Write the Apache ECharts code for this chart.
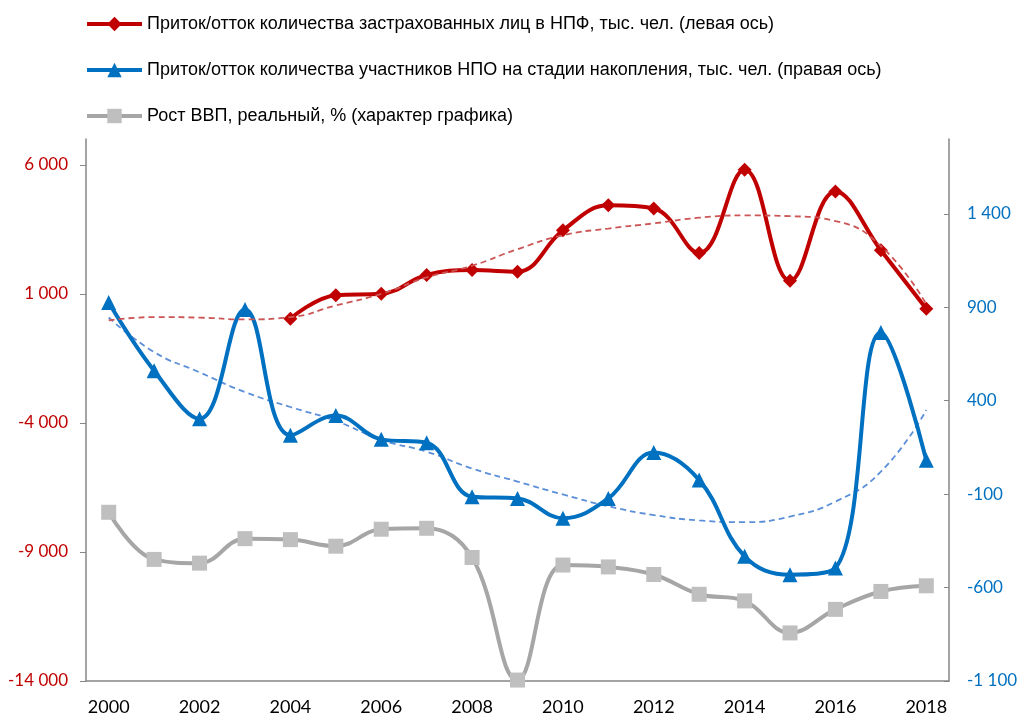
<!DOCTYPE html>
<html>
<head>
<meta charset="utf-8">
<script src="https://cdn.jsdelivr.net/npm/echarts@6/dist/echarts.min.js"></script>
<style>
  html, body { margin: 0; padding: 0; background: #fff; }
  #chart { width: 1026px; height: 716px; }
</style>
</head>
<body>
<div id="chart"></div>
<script>
// годы
var years = ['2000','2001','2002','2003','2004','2005','2006','2007','2008','2009',
             '2010','2011','2012','2013','2014','2015','2016','2017','2018'];

// НПФ, тыс. чел. (левая ось)
var npfFlow = [null, null, null, null, 40, 950, 1000, 1730, 1920, 1860,
               3460, 4430, 4310, 2580, 5810, 1510, 4970, 2690, 420];
var npfTrend = [-30, 100, 80, 10, 100, 550, 1000, 1640, 2090, 2730,
                3270, 3530, 3730, 3950, 4040, 4010, 3820, 2850, 600];

// НПО, тыс. чел. (правая ось)
var npoFlow = [925, 560, 303, 888, 215, 320, 193, 175, -114, -123,
               -229, -123, 122, -25, -433, -531, -495, 764, 81];
var npoTrend = [845, 660, 552, 446, 366, 292, 190, 127, 37, -33,
                -102, -165, -212, -241, -250, -220, -140, 20, 350];

// Рост ВВП, %
var gdp = [10.0, 5.0, 4.6, 7.2, 7.1, 6.4, 8.2, 8.3, 5.2, -7.8,
           4.4, 4.2, 3.4, 1.3, 0.6, -2.8, -0.3, 1.6, 2.2];

var legendNames = [
  'Приток/отток количества застрахованных лиц в НПФ, тыс. чел. (левая ось)',
  'Приток/отток количества участников НПО на стадии накопления, тыс. чел. (правая ось)',
  'Рост ВВП, реальный, % (характер графика)'
];

function spaced(v) {
  var s = String(Math.abs(v)).replace(/\B(?=(\d{3})+(?!\d))/g, ' ');
  return (v < 0 ? '-' : '') + s;
}

var chart = echarts.init(document.getElementById('chart'));
var option = {
  animation: false,
  backgroundColor: '#fff',
  legend: {
    orient: 'vertical',
    left: 80,
    top: 10,
    itemGap: 28,
    itemWidth: 55,
    itemHeight: 18,
    data: legendNames,
    lineStyle: { width: 4 },
    textStyle: { fontFamily: 'Liberation Sans', fontSize: 18, color: '#000' }
  },
  grid: { left: 86, right: 77, top: 139, bottom: 34 },
  xAxis: {
    type: 'category',
    data: years,
    boundaryGap: true,
    axisLine: { onZero: false, lineStyle: { color: '#868686', width: 1.5 } },
    axisTick: { alignWithLabel: true, interval: 0, length: 6, lineStyle: { color: '#868686' } },
    axisLabel: { interval: 1, color: '#000', fontFamily: 'Lato', fontSize: 18, margin: 17 }
  },
  yAxis: [
    {
      type: 'value', position: 'left',
      min: -14000, max: 7000, interval: 5000,
      splitLine: { show: false },
      axisLine: { show: true, lineStyle: { color: '#868686', width: 1.5 } },
      axisTick: { show: true, length: 6, lineStyle: { color: '#868686' } },
      axisLabel: {
        showMaxLabel: false, color: '#C00000', fontFamily: 'Lato', fontSize: 17, margin: 18,
        formatter: function (v) { return spaced(v); }
      }
    },
    {
      type: 'value', position: 'right',
      min: -1100, max: 1800, interval: 500,
      splitLine: { show: false },
      axisLine: { show: true, lineStyle: { color: '#868686', width: 1.5 } },
      axisTick: { show: true, inside: true, length: 5, lineStyle: { color: '#868686' } },
      axisLabel: {
        showMaxLabel: false, color: '#0070C0', fontFamily: 'Lato', fontSize: 17, margin: 18,
        formatter: function (v) { return spaced(v); }
      }
    },
    {
      type: 'value', show: false,
      min: -7.9, max: 49.6
    }
  ],
  series: [
    {
      name: legendNames[2], type: 'line', yAxisIndex: 2, data: gdp,
      smooth: 0.4, symbol: 'rect', symbolSize: 15,
      lineStyle: { color: '#A6A6A6', width: 4 },
      itemStyle: { color: '#BFBFBF' }, z: 2
    },
    {
      name: 'npoTrend', type: 'line', yAxisIndex: 1, data: npoTrend,
      smooth: 0.5, symbol: 'none',
      lineStyle: { color: '#5B8FD8', width: 1.8, type: [6, 4] }, z: 3
    },
    {
      name: legendNames[1], type: 'line', yAxisIndex: 1, data: npoFlow,
      smooth: 0.4, symbol: 'triangle', symbolSize: 15,
      lineStyle: { color: '#0070C0', width: 4 },
      itemStyle: { color: '#0070C0' }, z: 4
    },
    {
      name: legendNames[0], type: 'line', yAxisIndex: 0, data: npfFlow,
      smooth: 0.4, symbol: 'diamond', symbolSize: 14,
      lineStyle: { color: '#C00000', width: 4 },
      itemStyle: { color: '#C00000' }, z: 5
    },
    {
      name: 'npfTrend', type: 'line', yAxisIndex: 0, data: npfTrend,
      smooth: 0.5, symbol: 'none',
      lineStyle: { color: '#CC5555', width: 1.8, type: [6, 4] }, z: 6
    }
  ]
};
chart.setOption(option);
</script>
</body>
</html>
